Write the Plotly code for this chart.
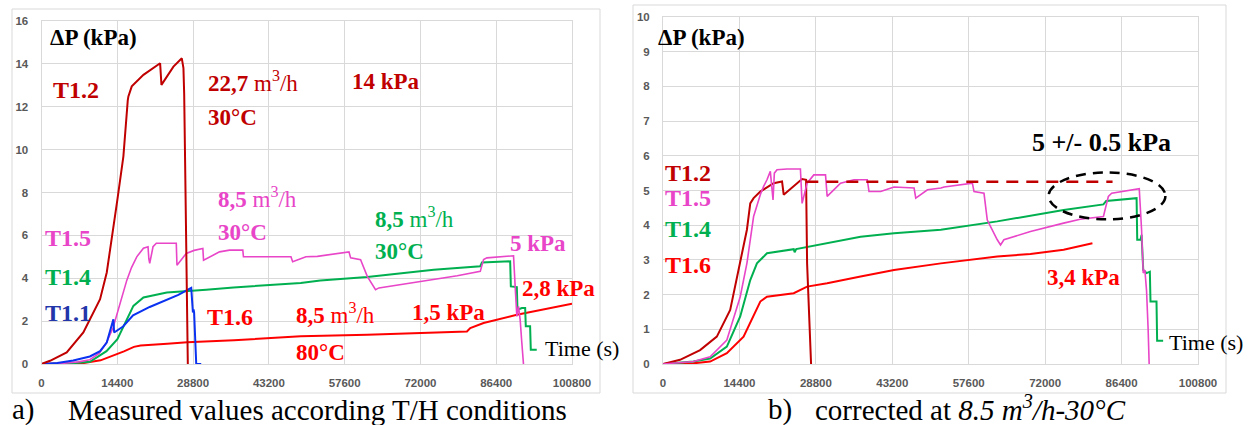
import plotly.graph_objects as go

# ---------------- data (left panel: measured) ----------------
x_ticks = [0, 14400, 28800, 43200, 57600, 72000, 86400, 100800]
x_tick_text = ["0", "14400", "28800", "43200", "57600", "72000", "86400", "100800"]

a_t12_x = [0, 1620, 4790, 7950, 11130, 12400, 14420, 15560, 16390, 16510, 17150, 19370, 22540, 22790, 25070, 26660, 26970, 27110, 27290, 27600, 27800]
a_t12_y = [0, 0.15, 0.54, 1.47, 3.02, 4.27, 7.67, 9.69, 12.3, 12.48, 12.95, 13.49, 14.03, 13.02, 13.87, 14.26, 13.8, 12.6, 9.4, 3.0, 0]

a_t15_x = [0, 4000, 7000, 9190, 11000, 12350, 13610, 14420, 15300, 16200, 17100, 18100, 19370, 20240, 20400, 20560, 21190, 21820, 23500, 25610, 25740, 27510, 29000, 30660, 30790, 33820, 35720, 38250, 38370, 43930, 47400, 47720, 50240, 52420, 55000, 58420, 58740, 60630, 61900, 63470, 64110, 69000, 74530, 79000, 83370, 84000, 84630, 89370, 89690, 90000, 90320, 90630, 90950, 91270, 91580]
a_t15_y = [0, 0.03, 0.1, 0.2, 0.5, 1.0, 1.7, 2.4, 3.2, 3.9, 4.5, 5.0, 5.4, 5.47, 4.9, 4.69, 5.47, 5.63, 5.63, 5.63, 4.61, 5.16, 5.3, 5.39, 4.84, 5.23, 5.31, 5.31, 5.0, 5.0, 5.0, 4.77, 5.0, 5.02, 5.1, 5.23, 4.95, 4.87, 4.09, 3.47, 3.55, 3.74, 3.93, 4.12, 4.32, 4.87, 4.95, 5.05, 5.05, 3.62, 2.22, 2.69, 2.07, 0.98, 0]

a_t14_x = [0, 5000, 9190, 12350, 14420, 16200, 17460, 19370, 23810, 31300, 36480, 49260, 52970, 61900, 74530, 83370, 83690, 89050, 89180, 90320, 90440, 91270, 91900, 92020, 92840, 92970, 94100]
a_t14_y = [0, 0.02, 0.1, 0.6, 1.16, 2.09, 2.71, 3.1, 3.33, 3.46, 3.57, 3.78, 3.9, 4.06, 4.40, 4.56, 4.74, 4.79, 3.62, 3.59, 2.53, 2.61, 2.61, 1.76, 1.76, 0.67, 0.67]

a_t11_x = [0, 3000, 6030, 9190, 11130, 12400, 13660, 13800, 15500, 17400, 20560, 23720, 26000, 28450, 28770, 28900, 29000, 29400, 30350]
a_t11_y = [0, 0.05, 0.16, 0.35, 0.6, 1.0, 2.09, 1.47, 1.75, 2.27, 2.66, 2.97, 3.22, 3.55, 2.4, 2.55, 2.4, 0, 0]

a_t16_x = [0, 5000, 8050, 11220, 13760, 15660, 17560, 18830, 23900, 27700, 36580, 49260, 61900, 74530, 80840, 81470, 84000, 90320, 93470, 100800]
a_t16_y = [0, 0.01, 0.05, 0.17, 0.39, 0.59, 0.8, 0.86, 0.95, 1.02, 1.11, 1.29, 1.37, 1.45, 1.52, 1.68, 1.91, 2.3, 2.46, 2.81]

# ---------------- data (right panel: corrected) ----------------
b_t12_x = [0, 3210, 6990, 10140, 12660, 14550, 15810, 16440, 17070, 18330, 20850, 22430, 22740, 26200, 26960, 27150, 27600, 27900]
b_t12_y = [0, 0.12, 0.4, 0.79, 1.56, 2.9, 3.87, 4.63, 4.78, 4.97, 5.21, 5.26, 4.88, 5.33, 5.31, 2.9, 0.98, 0]

b_t15_x = [0, 5730, 8880, 12030, 14550, 15810, 17070, 18330, 18960, 19590, 20220, 20730, 20980, 21480, 23370, 25890, 26210, 27150, 28410, 30620, 30930, 33450, 35970, 38490, 38810, 41010, 43530, 47310, 47620, 49830, 52350, 52970, 58290, 58600, 60480, 61100, 62980, 63600, 64230, 69230, 75480, 78600, 82980, 83910, 84540, 89730, 90170, 90480, 90790, 91100, 91410, 91600]
b_t15_y = [0, 0.07, 0.21, 0.69, 1.94, 2.9, 4.25, 4.88, 5.12, 5.31, 5.55, 4.73, 5.5, 5.6, 5.62, 5.62, 4.63, 5.21, 5.45, 5.45, 4.83, 5.21, 5.31, 5.31, 4.97, 4.97, 5.1, 5.07, 4.78, 5.02, 5.07, 5.1, 5.21, 4.97, 4.92, 4.15, 3.58, 3.43, 3.58, 3.82, 4.06, 4.17, 4.25, 4.83, 4.92, 5.05, 3.87, 2.62, 2.71, 2.13, 0.98, 0]

b_t14_x = [0, 5730, 8880, 12030, 14550, 16440, 17700, 19590, 24630, 24800, 25100, 30930, 37230, 43530, 52350, 62980, 75480, 82980, 83500, 89230, 89350, 89980, 90170, 90480, 91100, 91730, 91850, 92980, 93100, 94230]
b_t14_y = [0, 0.07, 0.16, 0.5, 1.37, 2.42, 2.9, 3.19, 3.31, 3.22, 3.31, 3.48, 3.67, 3.77, 3.87, 4.11, 4.44, 4.6, 4.7, 4.78, 3.58, 3.58, 3.72, 2.71, 2.62, 2.66, 1.8, 1.8, 0.67, 0.67]

b_t16_x = [0, 5730, 8880, 12030, 15180, 17070, 18330, 19590, 24630, 27150, 30930, 37230, 43530, 52350, 62980, 69230, 75480, 80910]
b_t16_y = [0, 0.02, 0.07, 0.31, 0.79, 1.37, 1.8, 1.94, 2.04, 2.23, 2.33, 2.52, 2.71, 2.9, 3.1, 3.17, 3.29, 3.48]

target_x = [27000, 84700]
target_y = [5.25, 5.25]

ellipse_x = [72660, 94660]
ellipse_y = [4.17, 5.52]

# ---------------- styles ----------------
W, H = 1256, 425
C12, C15, C14, C11, C16 = "#C00000", "#E845C8", "#00B050", "#0A32F0", "#FF0000"
C11_LABEL = "#2236AA"
GRID = "#D9D9D9"
SERIF = "Liberation Serif, Times New Roman, serif"


def px(x):
    return x / W


def py(y):
    return 1 - y / H


fig = go.Figure()


def add_line(x, y, color, xa, ya, width=2, dash=None):
    fig.add_trace(go.Scatter(x=x, y=y, mode="lines", xaxis=xa, yaxis=ya,
                             line=dict(color=color, width=width, dash=dash),
                             hoverinfo="skip", showlegend=False))


add_line(a_t16_x, a_t16_y, C16, "x", "y")
add_line(a_t14_x, a_t14_y, C14, "x", "y")
add_line(a_t15_x, a_t15_y, C15, "x", "y", width=1.6)
add_line(a_t11_x, a_t11_y, C11, "x", "y")
add_line(a_t12_x, a_t12_y, C12, "x", "y")

add_line(b_t16_x, b_t16_y, C16, "x2", "y2")
add_line(b_t14_x, b_t14_y, C14, "x2", "y2")
add_line(b_t12_x, b_t12_y, C12, "x2", "y2")
add_line(b_t15_x, b_t15_y, C15, "x2", "y2", width=1.6)
add_line(target_x, target_y, C12, "x2", "y2", width=2.5, dash="12px,8px")

tickfont = dict(family="Liberation Sans, Arial, sans-serif", size=11.5, color="#595959", weight="bold")
common_x = dict(range=[0, 100800], tickmode="array", tickvals=x_ticks, ticktext=x_tick_text,
                showgrid=True, gridcolor=GRID, gridwidth=1, zeroline=False,
                showline=True, mirror=True, linecolor=GRID, linewidth=1,
                ticks="", tickfont=tickfont, ticklabelstandoff=8, automargin=False)
common_y = dict(showgrid=True, gridcolor=GRID, gridwidth=1, zeroline=False,
                showline=True, mirror=True, linecolor=GRID, linewidth=1,
                ticks="", tickfont=tickfont, ticklabelstandoff=10, automargin=False)

fig.update_layout(
    width=W, height=H, autosize=False,
    margin=dict(l=0, r=0, t=0, b=0, autoexpand=False),
    paper_bgcolor="white", plot_bgcolor="white",
    showlegend=False,
    xaxis=dict(domain=[px(41.5), px(572)], anchor="y", **common_x),
    yaxis=dict(domain=[py(364), py(21)], anchor="x", range=[0, 16], tickmode="linear", tick0=0, dtick=2, **common_y),
    xaxis2=dict(domain=[px(663), px(1198)], anchor="y2", **common_x),
    yaxis2=dict(domain=[py(364), py(17)], anchor="x2", range=[0, 10], tickmode="linear", tick0=0, dtick=1, **common_y),
)

# outer chart frames
fig.add_shape(type="rect", xref="paper", yref="paper", x0=px(12), x1=px(600), y0=py(393), y1=py(9),
              line=dict(color=GRID, width=1))
fig.add_shape(type="rect", xref="paper", yref="paper", x0=px(633), x1=px(1226), y0=py(393), y1=py(5),
              line=dict(color=GRID, width=1))

# tolerance ellipse
fig.add_shape(type="circle", xref="x2", yref="y2", x0=ellipse_x[0], x1=ellipse_x[1],
              y0=ellipse_y[0], y1=ellipse_y[1], line=dict(color="black", width=2.5, dash="10px,7px"))


def label(text, x, y, color, size=23, bold=True, yanchor="middle"):
    t = f"<b>{text}</b>" if bold else text
    fig.add_annotation(text=t, xref="paper", yref="paper", x=px(x), y=py(y),
                       xanchor="left", yanchor=yanchor, showarrow=False, borderpad=0,
                       font=dict(family=SERIF, size=size, color=color))


M3H = " m<sup>3</sup>/h"

# left panel texts
label("ΔP (kPa)", 49, 38, "black", 23)
label("T1.2", 52, 90, C12, 24)
label("<b>22,7</b>" + M3H, 207, 82, C12, 23, bold=False)
label("30°C", 207, 118, C12, 23)
label("14 kPa", 351, 82, C12, 23)
label("<b>8,5</b>" + M3H, 217, 197, C15, 23, bold=False)
label("30°C", 217, 232, C15, 23)
label("T1.5", 44, 238, C15, 24)
label("T1.4", 44, 277, C14, 24)
label("T1.1", 44, 313, C11_LABEL, 24)
label("T1.6", 206, 317, C16, 24)
label("<b>8,5</b>" + M3H, 295, 313, C16, 23, bold=False)
label("80°C", 295, 352, C16, 23)
label("1,5 kPa", 411, 312, C16, 23)
label("2,8 kPa", 521, 288, C16, 23)
label("5 kPa", 509, 243, C15, 23)
label("<b>8,5</b>" + M3H, 374, 217, C14, 23, bold=False)
label("30°C", 374, 252, C14, 23)
label("Time (s)", 544, 348, "black", 22, bold=False)

# right panel texts
label("ΔP (kPa)", 657, 38, "black", 23)
label("T1.2", 664, 173, C12, 24)
label("T1.5", 664, 198, C15, 24)
label("T1.4", 664, 229, C14, 24)
label("T1.6", 664, 265, C16, 24)
label("5 +/- 0.5 kPa", 1031, 142, "black", 26)
label("3,4 kPa", 1046, 277, C16, 23)
label("Time (s)", 1168, 342, "black", 22, bold=False)

# captions (bottom-anchored so both share one baseline)
label("a)", 11, 427, "black", 29, bold=False, yanchor="bottom")
label("Measured values according T/H conditions", 67, 427, "black", 29, bold=False, yanchor="bottom")
label("b)", 767, 427, "black", 29, bold=False, yanchor="bottom")
label("corrected at <i>8.5 m<sup>3</sup>/h-30°C</i>", 814, 427, "black", 29, bold=False, yanchor="bottom")

fig.write_html("out.html", config={"displayModeBar": False},
               post_script="document.body.style.margin='0';document.body.style.overflow='hidden';")
